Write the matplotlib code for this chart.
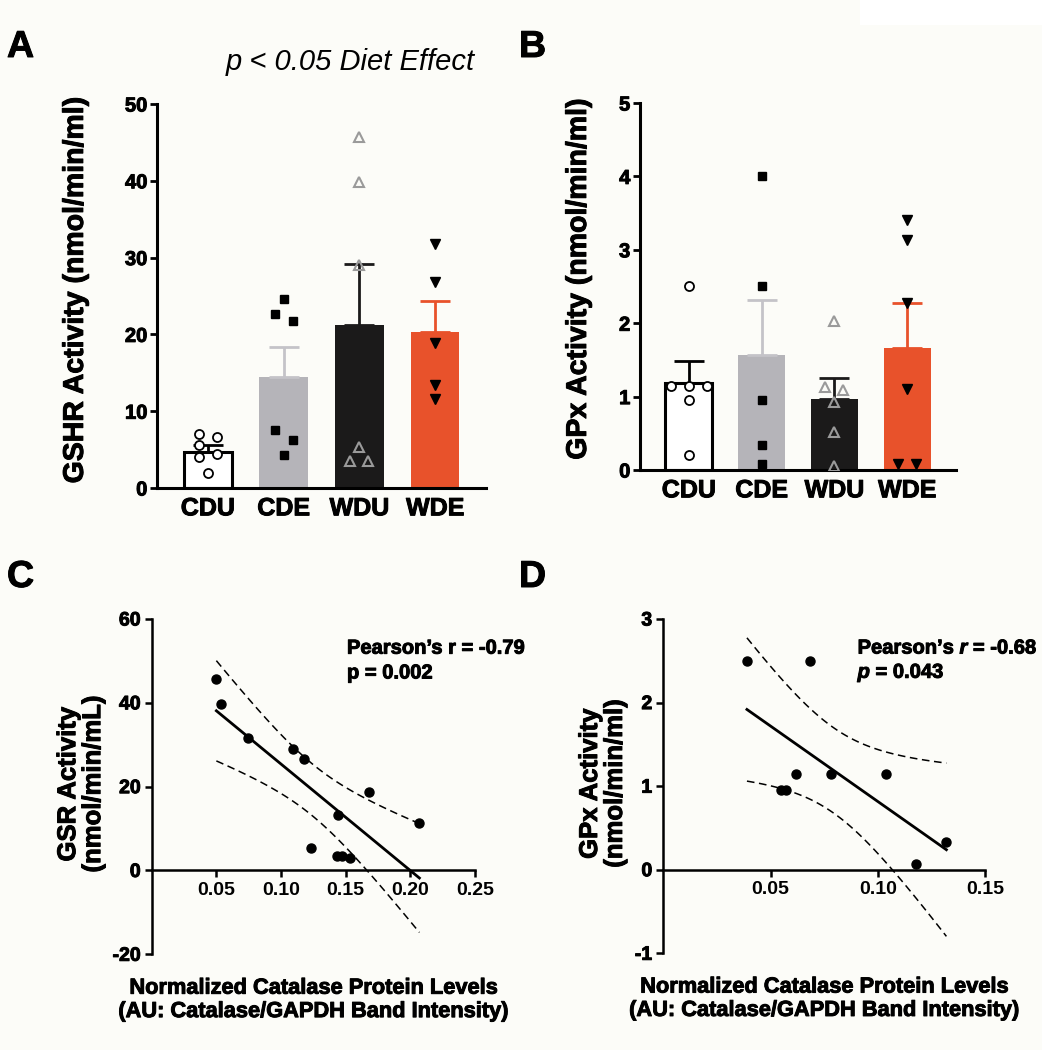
import numpy as np
import matplotlib
matplotlib.use('Agg')
import matplotlib.pyplot as plt
import matplotlib.patheffects as pe
from matplotlib.patches import Rectangle
from matplotlib.text import Text

plt.rcParams['font.family'] = ['Liberation Sans', 'DejaVu Sans']
plt.rcParams['font.weight'] = 'bold'
plt.rcParams['mathtext.fontset'] = 'custom'
plt.rcParams['mathtext.rm'] = 'Liberation Sans:bold'
plt.rcParams['mathtext.it'] = 'Liberation Sans:bold:italic'

# ---- data ----
groups = ['CDU', 'CDE', 'WDU', 'WDE']

# panel A: GSHR activity
gshr_mean = [4.7, 14.4, 21.2, 20.3]
gshr_sem = [0.9, 3.9, 8.0, 4.0]
gshr_pts = [
    [7.0, 6.6, 5.6, 4.4, 4.0, 1.95],
    [24.6, 22.7, 21.8, 7.5, 6.3, 4.3],
    [45.7, 39.9, 29.1, 5.4, 3.5, 3.5],
    [31.8, 26.8, 18.9, 13.4, 11.6],
]

# panel B: GPx activity
gpx_mean = [1.18, 1.57, 0.97, 1.66]
gpx_sem = [0.31, 0.74, 0.28, 0.61]
gpx_pts = [
    [2.5, 1.14, 1.14, 1.14, 0.95, 0.2],
    [4.0, 2.5, 0.95, 0.34, 0.08],
    [2.03, 1.13, 1.09, 0.93, 0.52, 0.06],
    [3.41, 3.13, 2.27, 1.1, 0.08, 0.08],
]

# panel C: catalase vs GSR
cat_c = [0.050, 0.0534, 0.0746, 0.109, 0.118, 0.168, 0.207, 0.144, 0.123, 0.1435, 0.147, 0.153]
gsr_c = [45.7, 39.8, 31.5, 29.0, 26.6, 18.7, 11.4, 13.2, 5.3, 3.4, 3.4, 2.9]

# panel D: catalase vs GPx
cat_d = [0.039, 0.0685, 0.0617, 0.078, 0.104, 0.0549, 0.0572, 0.132, 0.118]
gpx_d = [2.50, 2.50, 1.14, 1.14, 1.14, 0.95, 0.95, 0.33, 0.07]

bar_fill = ['white', '#b5b4b9', '#1b1a1a', '#e8522b']
bar_edge = ['black', '#b5b4b9', '#1b1a1a', '#e8522b']
err_col = ['black', '#c4c3c8', '#1b1a1a', '#e8522b']
pt_style = [
    dict(marker='o', mfc='white', mec='black', ms=6.5, mew=1.3),
    dict(marker='s', mfc='black', mec='black', ms=6.0, mew=1.0),
    dict(marker='^', mfc='none', mec='#9a9a9a', ms=6.5, mew=1.5),
    dict(marker='v', mfc='black', mec='black', ms=6.5, mew=1.0),
]

fig = plt.figure(figsize=(10.42, 10.5), dpi=100)
fig.patch.set_facecolor('#fcfcf8')
fig.patches.append(Rectangle((860 / 1042, 1 - 25 / 1050), 1, 1, transform=fig.transFigure,
                             facecolor='white', edgecolor='none', zorder=-1))


def swarm(ax, xc, vals, diam=10.0, step=18.0):
    # simple column scatter: nudge colliding points sideways, then centre each clump
    ypx = ax.transData.transform(np.column_stack([np.full(len(vals), xc), vals]))[:, 1]
    order = np.argsort(-ypx, kind='stable')
    placed = []
    offs = np.zeros(len(vals))
    for k in order:
        for c in [0, step, -step, 2 * step, -2 * step]:
            if all(np.hypot(c - offs[j], ypx[k] - ypx[j]) >= diam for j in placed):
                offs[k] = c
                break
        placed.append(k)
    clump = [order[0]]
    clumps = []
    for k in order[1:]:
        if ypx[clump[-1]] - ypx[k] < diam:
            clump.append(k)
        else:
            clumps.append(clump)
            clump = [k]
    clumps.append(clump)
    for cl in clumps:
        mid = (offs[cl].max() + offs[cl].min()) / 2
        offs[cl] -= mid
    x0 = ax.transData.transform([(xc, 0)])[0, 0]
    xs = ax.transData.inverted().transform(np.column_stack([x0 + offs, ypx]))[:, 0]
    return xs


def bar_panel(ax, means, sems, pts, ylim, yticks, ylabel, lab_xy):
    x = np.arange(len(groups))
    ax.set_xlim(-0.67, 3.67)
    ax.set_ylim(*ylim)
    for i in x:
        ax.bar(i, means[i], width=0.64, color=bar_fill[i], edgecolor=bar_edge[i],
               linewidth=2.2 if i == 0 else 0, zorder=2)
        ax.errorbar(i, means[i], yerr=[[0], [sems[i]]], color=err_col[i], lw=2,
                    capsize=11, capthick=2, zorder=3)
        vals = np.array(pts[i])
        ax.plot(swarm(ax, i, vals), vals, ls='none', zorder=4, **pt_style[i])
    ax.set_yticks(yticks)
    ax.set_xticks(x)
    ax.set_xticklabels(groups, fontsize=18, fontweight='bold')
    for t in ax.get_yticklabels():
        t.set_fontweight('bold')
    ax.tick_params(axis='x', length=0, pad=6)
    ax.tick_params(axis='y', length=5, width=2, labelsize=14.5, pad=2)
    for s in ['top', 'right']:
        ax.spines[s].set_visible(False)
    for s in ['left', 'bottom']:
        ax.spines[s].set_linewidth(2.2)
    ax.set_ylabel(ylabel, fontsize=20.5, fontweight='bold')
    ax.yaxis.set_label_coords(*lab_xy)
    ax.set_facecolor('none')


axA = fig.add_axes([157 / 1042, 1 - 488 / 1050, 329 / 1042, 384 / 1050])
bar_panel(axA, gshr_mean, gshr_sem, gshr_pts, (0, 50), [0, 10, 20, 30, 40, 50],
          'GSHR Activity (nmol/min/ml)', (-0.207, 0.515))

axB = fig.add_axes([640 / 1042, 1 - 470 / 1050, 316 / 1042, 367 / 1050])
bar_panel(axB, gpx_mean, gpx_sem, gpx_pts, (0, 5), [0, 1, 2, 3, 4, 5],
          'GPx Activity (nmol/min/ml)', (-0.152, 0.52))

diet = fig.text(350 / 1042, 1 - 62 / 1050, 'p < 0.05 Diet Effect', fontsize=21, style='italic',
                fontweight='normal', ha='center', va='center')


def corr_panel(ax, xv, yv, tcrit, xlim, xticks, ylim, yticks, ylabel, lab_xy, txt1, txt2):
    xv = np.array(xv)
    yv = np.array(yv)
    n = len(xv)
    slope, icpt = np.polyfit(xv, yv, 1)
    resid = yv - (slope * xv + icpt)
    s = np.sqrt(np.sum(resid ** 2) / (n - 2))
    xx = np.linspace(xv.min(), xv.max(), 100)
    fit = slope * xx + icpt
    half = tcrit * s * np.sqrt(1 / n + (xx - xv.mean()) ** 2 / np.sum((xv - xv.mean()) ** 2))
    ax.plot(xx, fit, color='black', lw=2)
    ax.plot(xx, fit + half, color='black', lw=1.1, ls=(0, (5, 3)))
    ax.plot(xx, fit - half, color='black', lw=1.1, ls=(0, (5, 3)))
    ax.plot(xv, yv, 'o', color='black', ms=6.5, zorder=4)
    ax.set_xlim(*xlim)
    ax.set_ylim(*ylim)
    ax.set_xticks(xticks)
    ax.set_xticklabels(['%.2f' % t for t in xticks])
    ax.set_yticks(yticks)
    ax.set_yticklabels(['%d' % t for t in yticks])
    for t in ax.get_xticklabels() + ax.get_yticklabels():
        t.set_fontweight('bold')
    ax.spines['bottom'].set_position(('data', 0))
    for s_ in ['top', 'right']:
        ax.spines[s_].set_visible(False)
    for s_ in ['left', 'bottom']:
        ax.spines[s_].set_linewidth(1.8)
    ax.tick_params(length=5, width=1.8, labelsize=14, pad=3)
    ax.set_ylabel(ylabel, fontsize=18.5, fontweight='bold', linespacing=1.05)
    ax.yaxis.set_label_coords(*lab_xy)
    ax.text(0.5, -0.136, 'Normalized Catalase Protein Levels\n(AU: Catalase/GAPDH Band Intensity)',
            transform=ax.transAxes, ha='center', va='center', fontsize=15.7,
            fontweight='bold', linespacing=1.15)
    ax.text(0.604, 0.913, txt1, transform=ax.transAxes, fontsize=14.5, fontweight='bold', va='center')
    ax.text(0.604, 0.839, txt2, transform=ax.transAxes, fontsize=14.5, fontweight='bold', va='center')
    ax.set_facecolor('none')


axC = fig.add_axes([151.7 / 1042, 1 - 954.3 / 1050, 323.3 / 1042, 335.3 / 1050])
corr_panel(axC, cat_c, gsr_c, 2.228, (0, 0.25), [0.05, 0.10, 0.15, 0.20, 0.25],
           (-20, 60), [-20, 0, 20, 40, 60], 'GSR Activity\n(nmol/min/mL)', (-0.144, 0.508),
           'Pearson’s r = -0.79', 'p = 0.002')

axD = fig.add_axes([663.3 / 1042, 1 - 953.3 / 1050, 321.7 / 1042, 334.3 / 1050])
corr_panel(axD, cat_d, gpx_d, 2.365, (0, 0.15), [0.05, 0.10, 0.15],
           (-1, 3), [-1, 0, 1, 2, 3], 'GPx Activity\n(nmol/min/ml)', (-0.113, 0.508),
           'Pearson’s $r$ = -0.68', '$p$ = 0.043')

for lab, px, py in [('A', 7, 57), ('B', 519, 57), ('C', 7, 587), ('D', 519, 587)]:
    fig.text(px / 1042, 1 - py / 1050, lab, fontsize=27, fontweight='bold', va='baseline')

# the scanned figure prints heavier than Liberation bold; thicken the glyphs a little
for t in fig.findobj(Text):
    if t is not diet and t.get_text():
        t.set_path_effects([pe.withStroke(linewidth=0.7, foreground=t.get_color())])

fig.savefig('out.png', dpi=100, facecolor=fig.get_facecolor())
